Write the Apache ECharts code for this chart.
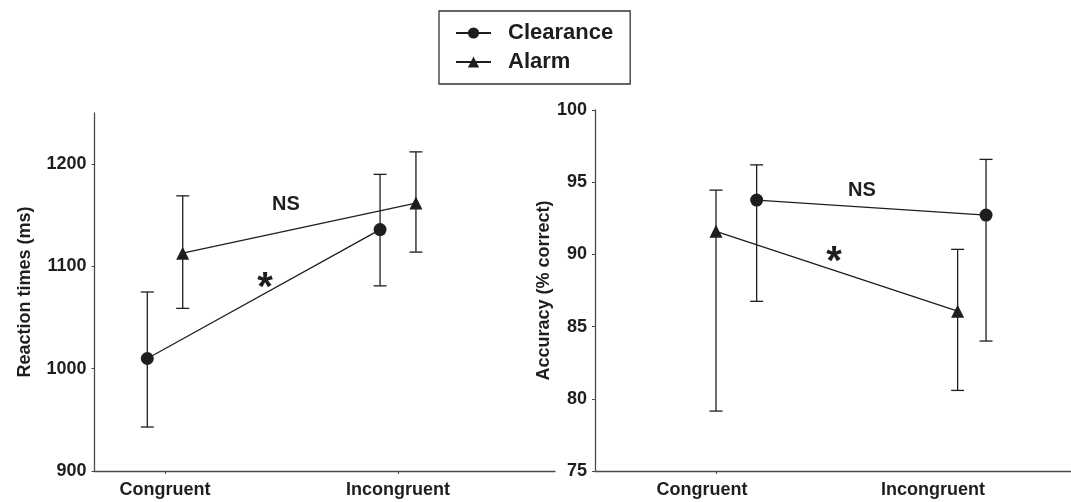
<!DOCTYPE html>
<html>
<head>
<meta charset="utf-8">
<title>Reaction times and accuracy</title>
<script src="https://cdn.jsdelivr.net/npm/echarts@6/dist/echarts.min.js"></script>
<style>
  html, body { margin: 0; padding: 0; background: #fff; }
  #main { width: 1071px; height: 502px; }
</style>
</head>
<body>
<div id="main"></div>
<script>
// data
var conditions = ['Congruent', 'Incongruent'];
var seriesNames = ['Clearance', 'Alarm'];

var rtClearance = [1010, 1136];
var rtClearanceLow = [943, 1081];
var rtClearanceHigh = [1075, 1190];
var rtAlarm = [1113, 1162];
var rtAlarmLow = [1059, 1114];
var rtAlarmHigh = [1169, 1212];

var accClearance = [93.76, 92.72];
var accClearanceLow = [86.75, 84.0];
var accClearanceHigh = [96.2, 96.58];
var accAlarm = [91.6, 86.07];
var accAlarmLow = [79.15, 80.58];
var accAlarmHigh = [94.45, 90.35];

var rtTicks = [900, 1000, 1100, 1200];
var accTicks = [75, 80, 85, 90, 95, 100];

// horizontal offsets of the markers around each condition (layout only)
var rtShift = { Clearance: [-0.076, -0.077], Alarm: [0.076, 0.077] };
var accShift = { Clearance: [0.176, 0.169], Alarm: [0.0, 0.046] };

var INK = '#1e1e1e';
var AXIS = '#4a4a4a';
var FONT = '"Liberation Sans", Arial, Helvetica, sans-serif';

function points(vals, shift) {
    var out = [];
    for (var i = 0; i < vals.length; i++) {
        out.push([i + shift[i], vals[i]]);
    }
    return out;
}

function bars(low, high, shift) {
    var out = [];
    for (var i = 0; i < low.length; i++) {
        out.push([i + shift[i], low[i], high[i]]);
    }
    return out;
}

function errRender(params, api) {
    var x = api.value(0);
    var top = api.coord([x, api.value(2)]);
    var bot = api.coord([x, api.value(1)]);
    var w = 6.5;
    var st = { stroke: INK, lineWidth: 1.3 };
    return {
        type: 'group',
        children: [
            { type: 'line', shape: { x1: top[0], y1: top[1], x2: bot[0], y2: bot[1] }, style: st },
            { type: 'line', shape: { x1: top[0] - w, y1: top[1], x2: top[0] + w, y2: top[1] }, style: st },
            { type: 'line', shape: { x1: bot[0] - w, y1: bot[1], x2: bot[0] + w, y2: bot[1] }, style: st }
        ]
    };
}

function lineSeries(name, data, idx) {
    return {
        name: name,
        type: 'line',
        xAxisIndex: idx,
        yAxisIndex: idx,
        data: data,
        symbol: name === 'Clearance' ? 'circle' : 'triangle',
        symbolSize: 13,
        showSymbol: true,
        lineStyle: { color: INK, width: 1.3 },
        itemStyle: { color: INK },
        z: 5,
        silent: true
    };
}

function errSeries(data, idx) {
    return {
        type: 'custom',
        xAxisIndex: idx,
        yAxisIndex: idx,
        data: data,
        renderItem: errRender,
        z: 3,
        silent: true
    };
}

function noteSeries(notes, idx) {
    return {
        type: 'scatter',
        xAxisIndex: idx,
        yAxisIndex: idx,
        symbolSize: 0,
        silent: true,
        z: 6,
        data: notes.map(function (n) {
            return {
                value: [n.x, n.y],
                label: {
                    show: true,
                    position: 'inside',
                    formatter: n.text,
                    color: INK,
                    textBorderWidth: 0,
                    opacity: 1,
                    fontFamily: FONT,
                    fontWeight: 'bold',
                    fontSize: n.size
                }
            };
        })
    };
}

function xAxisFor(idx, min, max, tickVals, labelPad) {
    return {
        type: 'value',
        gridIndex: idx,
        min: min,
        max: max,
        axisLine: { show: true, onZero: false, lineStyle: { color: AXIS, width: 1.3 } },
        axisTick: { show: true, customValues: tickVals, length: 3, lineStyle: { color: AXIS } },
        splitLine: { show: false },
        axisLabel: {
            customValues: [0, 1],
            margin: 10,
            formatter: function (v) {
                return '{c|' + conditions[Math.round(v)] + '}';
            },
            rich: {
                c: {
                    fontFamily: FONT,
                    fontWeight: 'bold',
                    fontSize: 18,
                    color: INK,
                    padding: [0, labelPad, 0, 0]
                }
            }
        }
    };
}

function yAxisFor(idx, min, max, ticks, name, gap) {
    return {
        type: 'value',
        gridIndex: idx,
        min: min,
        max: max,
        name: name,
        nameLocation: 'middle',
        nameGap: gap,
        nameTextStyle: { fontFamily: FONT, fontWeight: 'bold', fontSize: 18, color: INK },
        axisLine: { show: true, onZero: false, lineStyle: { color: AXIS, width: 1.3 } },
        axisTick: { show: true, customValues: ticks, length: 3, lineStyle: { color: AXIS } },
        splitLine: { show: false },
        axisLabel: {
            customValues: ticks,
            margin: 8,
            formatter: function (v) { return String(v); },
            fontFamily: FONT,
            fontWeight: 'bold',
            fontSize: 18,
            color: INK
        }
    };
}

var rtNotes = [
    { text: 'NS', x: 0.519, y: 1161, size: 20 },
    { text: '*', x: 0.429, y: 1078, size: 40 }
];
var accNotes = [
    { text: 'NS', x: 0.632, y: 94.45, size: 20 },
    { text: '*', x: 0.511, y: 89.4, size: 40 }
];

var chart = echarts.init(document.getElementById('main'));
var option = {
    animation: false,
    backgroundColor: '#fff',
    legend: {
        data: seriesNames,
        orient: 'vertical',
        left: 439,
        top: 11,
        padding: [10, 17, 10, 16],
        itemGap: 5,
        itemWidth: 35,
        itemHeight: 14,
        borderColor: '#333',
        borderWidth: 1.3,
        selectedMode: false,
        textStyle: {
            fontFamily: FONT,
            fontWeight: 'bold',
            fontSize: 22,
            lineHeight: 24,
            color: INK,
            padding: [0, 0, 0, 12]
        }
    },
    grid: [
        { left: 94.5, top: 113, width: 460.5, height: 358 },
        { left: 595, top: 110, width: 476, height: 361 }
    ],
    xAxis: [
        xAxisFor(0, -0.3026, 1.6738, [0, 1], 0),
        xAxisFor(1, -0.5238, 1.5368, [0], 28)
    ],
    yAxis: [
        yAxisFor(0, 900, 1250, rtTicks, 'Reaction times (ms)', 60),
        yAxisFor(1, 75, 100, accTicks, 'Accuracy (% correct)', 42)
    ],
    series: [
        errSeries(bars(rtClearanceLow, rtClearanceHigh, rtShift.Clearance), 0),
        errSeries(bars(rtAlarmLow, rtAlarmHigh, rtShift.Alarm), 0),
        lineSeries('Clearance', points(rtClearance, rtShift.Clearance), 0),
        lineSeries('Alarm', points(rtAlarm, rtShift.Alarm), 0),
        noteSeries(rtNotes, 0),
        errSeries(bars(accClearanceLow, accClearanceHigh, accShift.Clearance), 1),
        errSeries(bars(accAlarmLow, accAlarmHigh, accShift.Alarm), 1),
        lineSeries('Clearance', points(accClearance, accShift.Clearance), 1),
        lineSeries('Alarm', points(accAlarm, accShift.Alarm), 1),
        noteSeries(accNotes, 1)
    ]
};
chart.setOption(option);
</script>
</body>
</html>
